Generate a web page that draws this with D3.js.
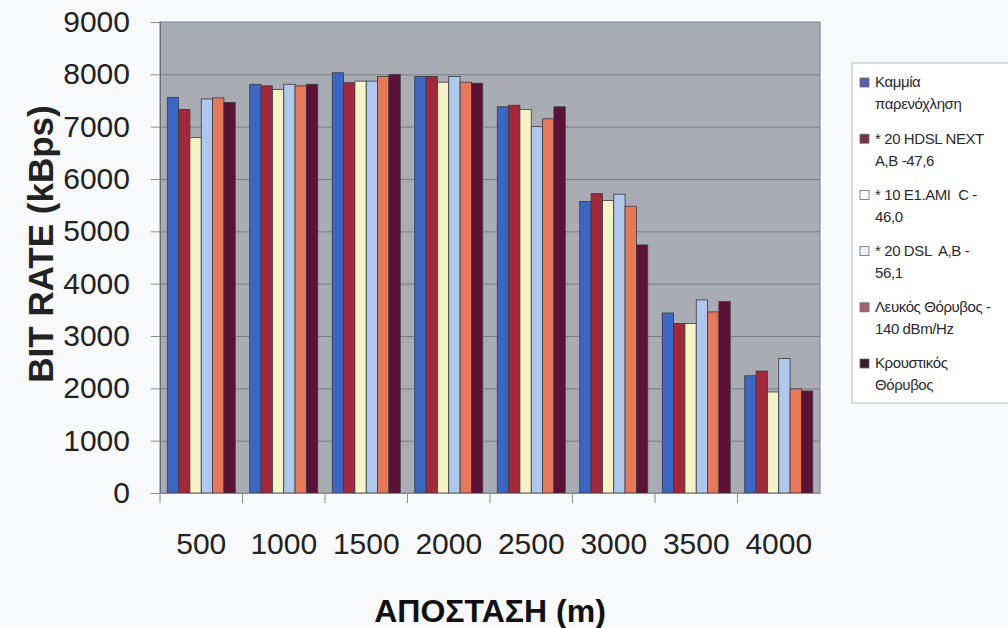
<!DOCTYPE html>
<html>
<head>
<meta charset="utf-8">
<script src="https://cdn.jsdelivr.net/npm/d3@7"></script>
<style>
  body { margin: 0; background: #f8f9fb; }
  svg { display: block; font-family: "Liberation Sans", Arial, sans-serif; }
  text { white-space: pre; }
</style>
</head>
<body>
<div id="chart"></div>
<script>
// distances (m)
var categories = ["500", "1000", "1500", "2000", "2500", "3000", "3500", "4000"];

var seriesNames = ["Καμμία παρενόχληση", "* 20 HDSL NEXT A,B -47,6", "* 10 E1.AMI  C -46,0",
	"* 20 DSL  A,B -56,1", "Λευκός Θόρυβος -140 dBm/Hz", "Κρουστικός Θόρυβος"];

// legend text is wrapped on two lines
var legendLines = [
	["Καμμία", "παρενόχληση"],
	["* 20 HDSL NEXT", "A,B -47,6"],
	["* 10 E1.AMI  C -", "46,0"],
	["* 20 DSL  A,B -", "56,1"],
	["Λευκός Θόρυβος -", "140 dBm/Hz"],
	["Κρουστικός", "Θόρυβος"]
];

// bit rate (kBps) per series, one value per distance
var noNoise   = [7560, 7810, 8030, 7960, 7380, 5570, 3440, 2240];
var hdslNext  = [7330, 7780, 7840, 7960, 7410, 5720, 3240, 2330];
var e1Ami     = [6790, 7710, 7870, 7850, 7330, 5590, 3240, 1930];
var dsl       = [7530, 7810, 7870, 7960, 7000, 5710, 3690, 2570];
var whiteNoise = [7550, 7780, 7960, 7850, 7150, 5480, 3460, 1990];
var impulse   = [7460, 7810, 8000, 7830, 7380, 4740, 3660, 1950];

var seriesValues = [noNoise, hdslNext, e1Ami, dsl, whiteNoise, impulse];
var yTicks = [0, 1000, 2000, 3000, 4000, 5000, 6000, 7000, 8000, 9000];

var barColors = ["#3a67c4", "#a3293a", "#f6f3c6", "#afc9ee", "#e8785a", "#5c1236"];
var swatchColors = ["#5661aa", "#74344a", "#ffffff", "#eef1f6", "#a8606c", "#3c1a28"];

var W = 1008, H = 628;
var margin = { top: 22, left: 160, right: 188, bottom: 135 };
var width = W - margin.left - margin.right,
	height = H - margin.top - margin.bottom;

var svg = d3.select("#chart").append("svg")
	.attr("width", W)
	.attr("height", H);

var g = svg.append("g")
	.attr("transform", "translate(" + margin.left + "," + margin.top + ")");

var x0 = d3.scaleBand()
	.domain(categories)
	.range([0, width]);

var x1 = d3.scaleBand()
	.domain(d3.range(seriesNames.length))
	.range([0, x0.bandwidth()])
	.paddingInner(0)
	.paddingOuter(0.64);

var y = d3.scaleLinear()
	.domain([0, 9000])
	.range([height, 0]);

// plot area
g.append("rect")
	.attr("width", width)
	.attr("height", height)
	.style("fill", "#aaacb4")
	.style("stroke", "#7c7e86")
	.style("stroke-width", 1);

// gridlines
g.append("g")
	.selectAll("line")
	.data(yTicks.slice(1, -1))
	.enter()
	.append("line")
	.attr("x1", 0)
	.attr("x2", width)
	.attr("y1", function(d) { return y(d) + 0.5; })
	.attr("y2", function(d) { return y(d) + 0.5; })
	.style("stroke", "#7a7c84")
	.style("stroke-width", 1);

// bars
var groups = g.selectAll(".cat")
	.data(categories)
	.enter()
	.append("g")
	.attr("class", "cat")
	.attr("transform", function(d) { return "translate(" + x0(d) + ",0)"; });

groups.selectAll("rect")
	.data(function(d, i) {
		return seriesValues.map(function(vals, s) { return { s: s, v: vals[i] }; });
	})
	.enter()
	.append("rect")
	.attr("x", function(d) { return x1(d.s); })
	.attr("width", x1.bandwidth())
	.attr("y", function(d) { return y(d.v); })
	.attr("height", function(d) { return height - y(d.v); })
	.style("fill", function(d) { return barColors[d.s]; })
	.style("stroke", "#3a3a40")
	.style("stroke-width", 0.8);

// y axis
var yAxis = d3.axisLeft(y)
	.tickValues(yTicks)
	.tickFormat(d3.format("d"))
	.tickSizeInner(9)
	.tickSizeOuter(0)
	.tickPadding(21);

var yg = g.append("g").call(yAxis);
yg.select(".domain").style("stroke", "#6a6c72");
yg.selectAll(".tick line").style("stroke", "#8a8c92");
yg.selectAll("text")
	.style("font-size", "30px")
	.style("fill", "#222");

// x axis with ticks on category boundaries
var xAxis = d3.axisBottom(x0)
	.tickSize(0)
	.tickPadding(40);

var xg = g.append("g")
	.attr("transform", "translate(0," + height + ")")
	.call(xAxis);
xg.select(".domain").style("stroke", "#8a8c92");
xg.selectAll("text")
	.style("font-size", "30px")
	.style("fill", "#222");

xg.selectAll(".bound")
	.data(categories)
	.enter()
	.append("line")
	.attr("x1", function(d) { return x0(d); })
	.attr("x2", function(d) { return x0(d); })
	.attr("y1", 0)
	.attr("y2", 10)
	.style("stroke", "#8a8c92");

// axis titles
svg.append("text")
	.attr("transform", "translate(53,244) rotate(-90)")
	.attr("text-anchor", "middle")
	.style("font-size", "35px")
	.style("font-weight", "bold")
	.style("fill", "#222")
	.text("BIT RATE (kBps)");

svg.append("text")
	.attr("x", margin.left + width / 2)
	.attr("y", 622)
	.attr("text-anchor", "middle")
	.style("font-size", "32px")
	.style("font-weight", "bold")
	.style("fill", "#111")
	.text("ΑΠΟΣΤΑΣΗ (m)");

// legend
var legend = svg.append("g")
	.attr("transform", "translate(852,63)");

legend.append("rect")
	.attr("width", 170)
	.attr("height", 340)
	.style("fill", "#ffffff")
	.style("stroke", "#b8bac0")
	.style("stroke-width", 1);

var entries = legend.selectAll(".entry")
	.data(legendLines)
	.enter()
	.append("g")
	.attr("class", "entry")
	.attr("transform", function(d, i) { return "translate(0," + (19 + i * 56.2) + ")"; });

entries.append("rect")
	.attr("x", 8)
	.attr("y", -4)
	.attr("width", 9)
	.attr("height", 9)
	.style("fill", function(d, i) { return swatchColors[i]; })
	.style("stroke", "#6a6a70")
	.style("stroke-width", 0.8);

entries.selectAll("text")
	.data(function(d) { return d; })
	.enter()
	.append("text")
	.attr("x", 23)
	.attr("y", function(d, j) { return j * 22; })
	.attr("dy", "0.36em")
	.style("font-size", "15px")
	.style("letter-spacing", "-0.4px")
	.style("fill", "#2a2a2e")
	.text(function(d) { return d; });
</script>
</body>
</html>
